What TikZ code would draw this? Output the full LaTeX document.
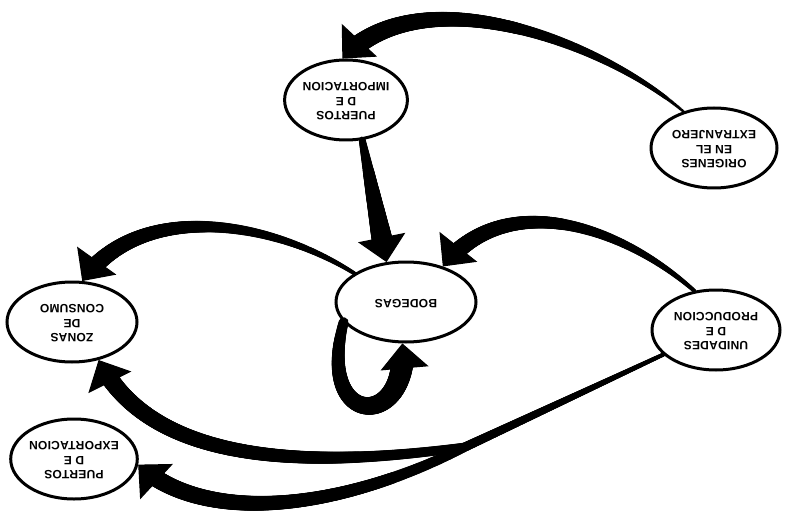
\documentclass[tikz,border=0pt]{standalone}
\usepackage{fontspec}
\setmainfont{Liberation Sans}[LetterSpace=2]
\usepackage{graphicx}
\usetikzlibrary{arrows.meta,decorations.markings,shapes.geometric}

\newcommand{\flipText}[1]{\rotatebox{180}{\begin{tabular}{@{}c@{}}#1\end{tabular}}}

\begin{document}
\begin{tikzpicture}[x=1pt,y=-1pt,
    place/.style 2 args={ellipse, draw, line width=3pt, minimum width=#1, minimum height=#2,
        inner sep=0pt, font=\fontsize{12}{14.5}\selectfont\bfseries},
    flow/.style 2 args={draw, line width=1pt, -{Triangle[width=48pt,length=25pt]},
        postaction={decorate, decoration={markings,
            mark=between positions 0 and -22pt step 1pt with {
                \pgfmathsetmacro\flowr{#1+(#2-#1)*\pgfkeysvalueof{/pgf/decoration/mark info/distance from start}/\pgfdecoratedpathlength}
                \fill (0,0) circle (\flowr pt);
            }}}}]
        \useasboundingbox (0,0) rectangle (786,521);

        % places, all printed upside down
        \node[place={118pt}{80pt}] (pimp) at (346,100) {\flipText{PUERTOS\\D E\\IMPORTACION}};
        \node[place={126pt}{80pt}] (orig) at (714,148) {\flipText{ORIGENES\\EN EL\\EXTRANJERO}};
        \node[place={140pt}{80pt}] (bod) at (406,302) {\flipText{BODEGAS}};
        \node[place={128pt}{80pt}] (unid) at (716,330) {\flipText{UNIDADES\\D E\\PRODUCCION}};
        \node[place={130pt}{80pt}] (zonas) at (72,322) {\flipText{ZONAS\\DE\\CONSUMO}};
        \node[place={126pt}{80pt}] (pexp) at (74,459) {\flipText{PUERTOS\\D E\\EXPORTACION}};

        % flows
        \draw[flow={1.5}{10}] (orig.130) .. controls (600,40) and (420,-25) .. (pimp.95);
        \draw[flow={3.5}{12}] (pimp.-68) -- (bod.116);
        \draw[flow={2}{9}] (bod.151) .. controls (270,220) and (140,200) .. (zonas.76);
        \draw[flow={2}{9}] (unid.119) .. controls (620,225) and (505,188) .. (bod.44);
        \draw[flow={5}{12}] (bod.198) .. controls (315,430) and (410,430) .. (bod.-95);

        \coordinate (split) at (465,447);
        \draw[flow={2}{9}] (unid.205) -- (split) .. controls (300,470) and (150,462) .. (zonas.-55);
        \draw[flow={2}{9}] (unid.205) -- (split) .. controls (330,515) and (200,522) .. (pexp.-5);
\end{tikzpicture}
\end{document}
